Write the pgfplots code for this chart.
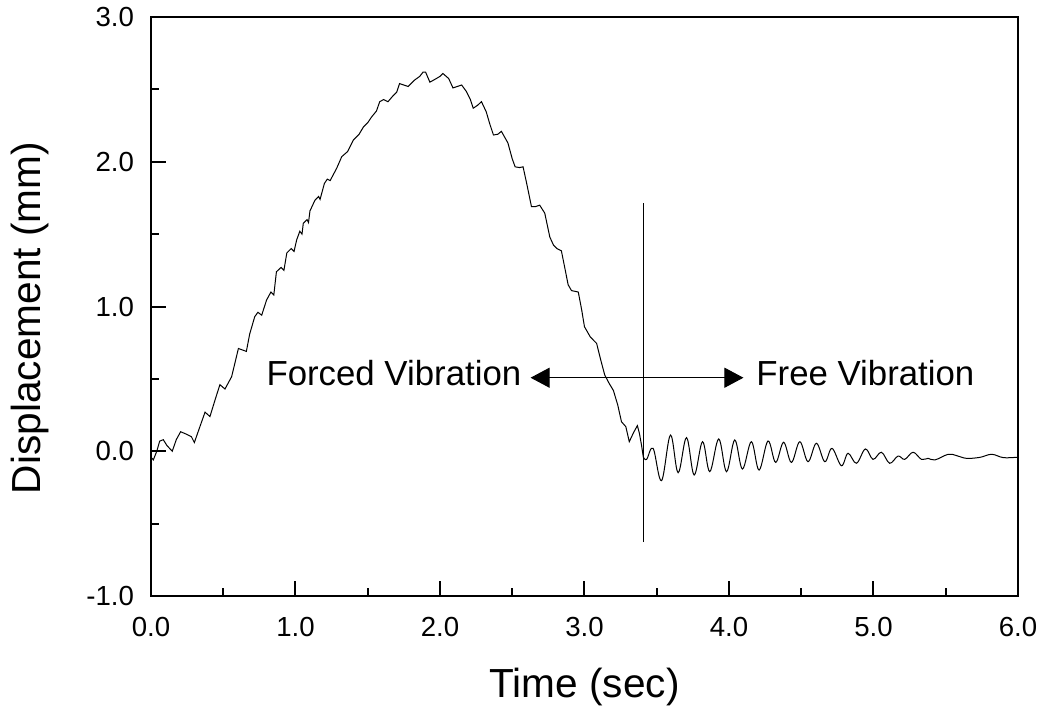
\documentclass[border=0pt]{standalone}
\usepackage{pgfplots}
\pgfplotsset{compat=1.18}
\usepackage{fontspec}
\setmainfont{Liberation Sans}
\usetikzlibrary{arrows.meta}
\begin{document}
\begin{tikzpicture}
\begin{axis}[
  at={(0,0)}, anchor=south west,
  scale only axis, width=433.5pt, height=289.5pt,
  xmin=0, xmax=6, ymin=-1, ymax=3,
  xtick={0,1,2,3,4,5,6}, ytick={-1,0,1,2,3},
  minor x tick num=1, minor y tick num=1,
  xtick pos=bottom, ytick pos=left,
  tick align=inside,
  major tick length=7.5pt, minor tick length=4pt,
  every tick/.style={black, line width=1pt},
  axis line style={line width=1.4pt},
  /pgf/number format/assume math mode=true,
  /pgf/number format/.cd, fixed, fixed zerofill, precision=1, /pgfplots/.cd,
  tick label style={font=\fontsize{13.8}{16}\selectfont},
  xticklabel style={yshift=-7pt},
  yticklabel style={xshift=-5pt},
  xlabel={Time (sec)},
  ylabel={Displacement (mm)},
  label style={font=\fontsize{20.3}{24}\selectfont},
  xlabel style={at={(axis description cs:0.5,0)}, anchor=base, yshift=-50.5pt},
  ylabel style={at={(axis description cs:-0.1395,0.480)}, anchor=center},
  clip=true,
]
% forced vibration part
\addplot[black, line width=0.5pt] coordinates {
(0.000,-0.04) (0.016,-0.06) (0.04,0.00) (0.06,0.07) (0.085,0.08) (0.11,0.04)
(0.147,0.00) (0.175,0.08) (0.205,0.135) (0.24,0.12) (0.28,0.10) (0.30,0.06)
(0.335,0.16) (0.374,0.27) (0.408,0.24) (0.445,0.36) (0.477,0.46) (0.512,0.43)
(0.558,0.515) (0.605,0.71) (0.66,0.69) (0.683,0.81) (0.718,0.93) (0.74,0.96)
(0.766,0.94) (0.80,1.045) (0.83,1.10) (0.85,1.08) (0.868,1.24) (0.90,1.27)
(0.92,1.25) (0.94,1.37) (0.97,1.40) (0.99,1.38) (1.008,1.46) (1.03,1.52)
(1.045,1.50) (1.054,1.575) (1.08,1.60) (1.09,1.58) (1.10,1.66) (1.135,1.735)
(1.16,1.76) (1.17,1.74) (1.20,1.85) (1.22,1.88) (1.24,1.87) (1.285,1.955)
(1.32,2.035) (1.36,2.07) (1.40,2.15) (1.44,2.19) (1.47,2.24) (1.50,2.27)
(1.527,2.31) (1.56,2.35) (1.583,2.415) (1.61,2.43) (1.64,2.415) (1.67,2.45)
(1.70,2.48) (1.72,2.54) (1.75,2.53) (1.78,2.52) (1.80,2.54) (1.825,2.565)
(1.86,2.59) (1.883,2.62) (1.90,2.62) (1.93,2.55) (1.975,2.575) (2.00,2.59)
(2.02,2.61) (2.06,2.575) (2.09,2.51) (2.12,2.52) (2.15,2.53) (2.183,2.485)
(2.21,2.43) (2.23,2.37) (2.26,2.39) (2.287,2.415) (2.32,2.345) (2.345,2.26)
(2.37,2.185) (2.40,2.19) (2.425,2.21) (2.47,2.13) (2.50,2.02) (2.52,1.965)
(2.55,1.96) (2.575,1.965) (2.60,1.85) (2.633,1.69) (2.66,1.69) (2.69,1.70)
(2.725,1.645) (2.76,1.48) (2.785,1.425) (2.81,1.40) (2.84,1.385) (2.865,1.26)
(2.887,1.15) (2.91,1.11) (2.957,1.10) (2.98,0.98) (3.00,0.86) (3.04,0.79)
(3.084,0.745) (3.11,0.64) (3.14,0.527) (3.17,0.47) (3.20,0.42) (3.23,0.32)
(3.256,0.204) (3.286,0.17) (3.31,0.066) (3.34,0.13) (3.366,0.177) (3.38,0.124)
(3.395,0.04) (3.407,-0.04)
};
% free vibration part
\addplot[black, line width=0.5pt, smooth, tension=0.6] coordinates {
(3.407,-0.04) (3.43,-0.056) (3.475,0.02) (3.533,-0.203) (3.595,0.112)
(3.648,-0.148) (3.706,0.094) (3.759,-0.164) (3.817,0.066) (3.867,-0.141)
(3.929,0.085) (3.983,-0.141) (4.04,0.078) (4.093,-0.123) (4.155,0.066)
(4.208,-0.13) (4.27,0.071) (4.323,-0.077) (4.378,0.062) (4.432,-0.077)
(4.49,0.066) (4.547,-0.072) (4.605,0.055) (4.663,-0.072) (4.713,0.02)
(4.778,-0.1) (4.824,-0.014) (4.882,-0.083) (4.944,0.016) (4.997,-0.056)
(5.055,-0.007) (5.112,-0.083) (5.17,-0.033) (5.216,-0.056) (5.274,-0.007)
(5.332,-0.056) (5.378,-0.049) (5.425,-0.06) (5.517,-0.021) (5.575,-0.03)
(5.644,-0.049) (5.737,-0.042) (5.818,-0.021) (5.898,-0.044) (5.99,-0.042) (6.0,-0.042)
};
% vertical divider
\addplot[black, line width=0.5pt] coordinates {(3.408,-0.627) (3.408,1.715)};
% double arrow
\addplot[black, line width=0.5pt, {Triangle[length=9.5pt,width=10pt]}-{Triangle[length=9.5pt,width=10pt]}]
  coordinates {(2.627,0.508) (4.10,0.508)};
\node[anchor=base east, inner sep=0pt, font=\fontsize{17.4}{20}\selectfont] at (axis cs:2.565,0.451) {Forced Vibration};
\node[anchor=base west, inner sep=0pt, font=\fontsize{17.4}{20}\selectfont] at (axis cs:4.187,0.451) {Free Vibration};
\end{axis}
\pgfresetboundingbox
\path (-75.5pt,-56pt) rectangle (444.5pt,298pt);
\end{tikzpicture}
\end{document}
